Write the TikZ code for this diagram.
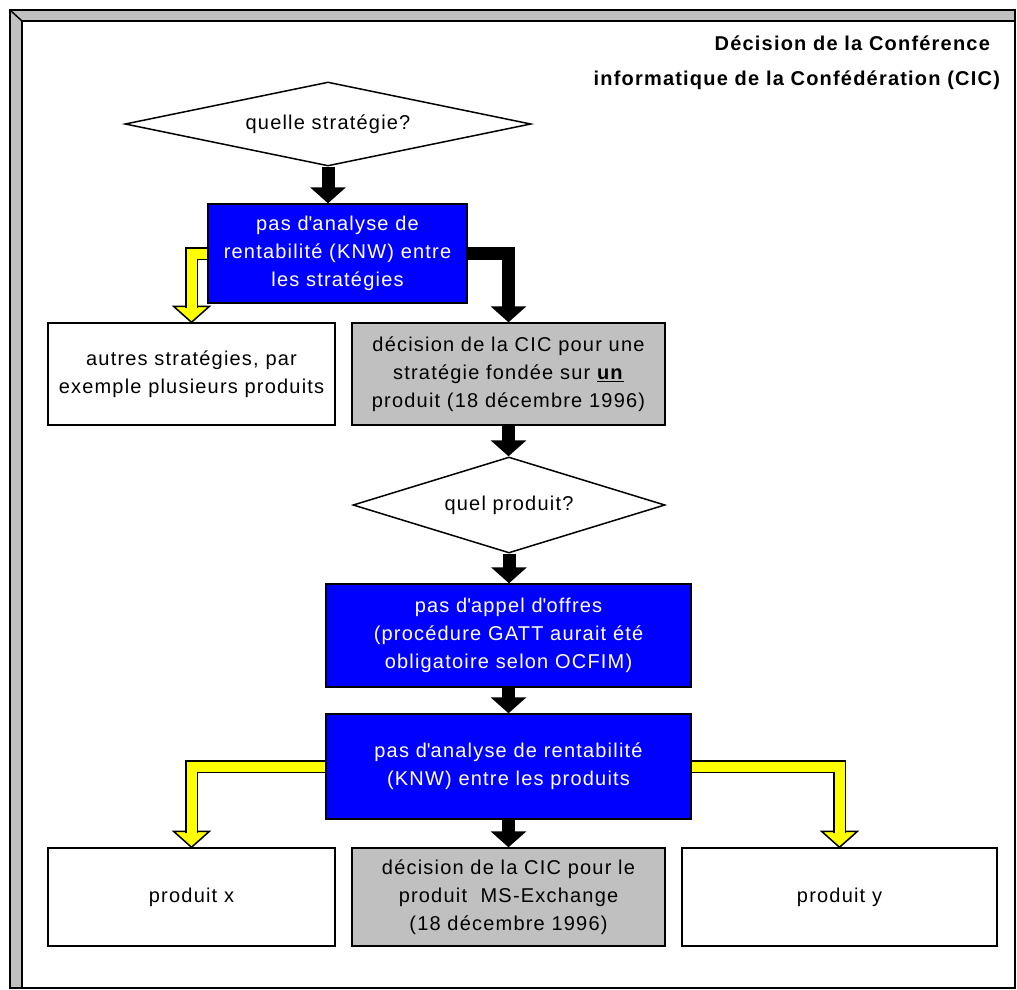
\documentclass[tikz,border=0pt]{standalone}
\usepackage{fontspec}
\setmainfont{Liberation Sans}[LetterSpace=6]
\usetikzlibrary{shapes.geometric,calc}
\definecolor{silver}{RGB}{192,192,192}
\definecolor{pureblue}{RGB}{0,0,255}
\definecolor{pureyellow}{RGB}{255,255,0}
\newcommand\ap{\textquotesingle}

\begin{document}
\begin{tikzpicture}[x=1pt,y=-1pt,
        line width=1.5pt,
        box/.style={
            rectangle,
            draw=black,
            inner sep=0pt,
            align=center,
            font=\fontsize{20}{28}\selectfont
        },
        bluebox/.style={box, fill=pureblue, text=white},
        greybox/.style={box, fill=silver},
        whitebox/.style={box, fill=white},
        question/.style={
            diamond,
            draw=black,
            fill=white,
            inner sep=0pt,
            font=\fontsize{20}{28}\selectfont
        },
        yshaft/.style={draw=black, double=pureyellow, double distance=10pt},
        bshaft/.style={draw=black, line width=13pt}
    ]
        \useasboundingbox (0,0) rectangle (1017,989);

        % Cadre
        \fill[silver] (10,10) rectangle (1015,21);
        \fill[silver] (10,10) rectangle (22,988);
        \draw[line width=2pt] (10,10) rectangle (1015,988);
        \draw (22,988) -- (22,21) -- (1015,21);
        \draw (10,10) -- (22,21);

        \node[anchor=east, align=right, font=\bfseries\fontsize{20}{35}\selectfont] (title) at (1004,63)
            {Décision de la Conférence\hspace*{10pt}\\informatique de la Confédération (CIC)};

        % Noeuds
        \node[question, aspect=4.8, minimum width=406, minimum height=84] (q1) at (328,124) {quelle stratégie?};
        \node[bluebox, minimum width=259, minimum height=99] (b1) at (337.5,253.5)
            {pas d\ap analyse de\\rentabilité (KNW) entre\\les stratégies};
        \node[whitebox, minimum width=287, minimum height=102] (alt) at (191.5,374)
            {autres stratégies, par\\exemple plusieurs produits};
        \node[greybox, minimum width=313, minimum height=102] (d1) at (508.5,374)
            {décision de la CIC pour une\\stratégie fondée sur \underline{\textbf{un}}\\produit (18 décembre 1996)};
        \node[question, aspect=3.25, minimum width=312, minimum height=96] (q2) at (509,505) {quel produit?};
        \node[bluebox, minimum width=365, minimum height=103] (b2) at (508.5,635.5)
            {pas d\ap appel d\ap offres\\(procédure GATT aurait été\\obligatoire selon OCFIM)};
        \node[bluebox, minimum width=365, minimum height=105] (b3) at (508.5,766.5)
            {pas d\ap analyse de rentabilité\\(KNW) entre les produits};
        \node[whitebox, minimum width=287, minimum height=98] (px) at (191.5,897) {produit x};
        \node[greybox, minimum width=313, minimum height=98] (d2) at (508.5,897)
            {décision de la CIC pour le\\produit~~MS-Exchange\\(18 décembre 1996)};
        \node[whitebox, minimum width=315, minimum height=98] (py) at (839.5,897) {produit y};

        % Fleches noires
        \foreach \a/\b in {q1/b1, d1/q2, q2/b2, b2/b3, b3/d2} {
            \fill (\a.south |- \b.north) -- ++(-18,-16) -- ++(36,0) -- cycle;
            \draw[bshaft] (\a.south) -- ($(\a.south |- \b.north)+(0,-14)$);
        }
        \fill (d1.north) -- ++(-18,-16) -- ++(36,0) -- cycle;
        \draw[bshaft] (b1.east) -| ($(d1.north)+(0,-14)$);

        % Fleches jaunes
        \foreach \a/\b/\side in {b1/alt/west, b3/px/west, b3/py/east} {
            \filldraw[fill=pureyellow] (\b.north) -- ++(-18,-16) -- ++(36,0) -- cycle;
            \draw[yshaft] (\a.\side) -| ($(\b.north)+(0,-14.5)$);
        }
    \end{tikzpicture}
\end{document}
